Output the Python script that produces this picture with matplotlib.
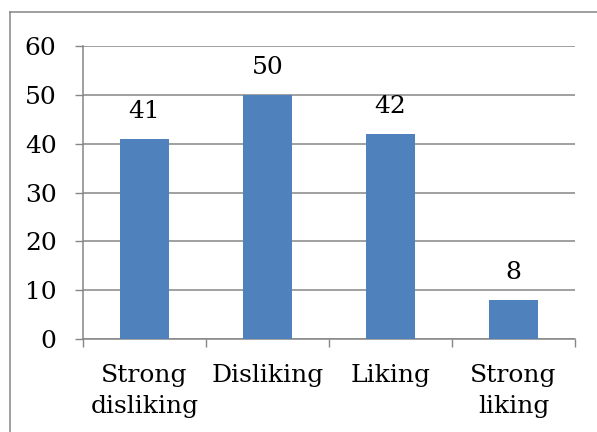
import matplotlib
matplotlib.use("Agg")
import matplotlib.pyplot as plt
from matplotlib.lines import Line2D
from matplotlib.ticker import FixedLocator

categories = ["Strong\ndisliking", "Disliking", "Liking", "Strong\nliking"]
counts = [41, 50, 42, 8]
y_ticks = [0, 10, 20, 30, 40, 50, 60]

W, H = 597, 432
plt.rcParams["font.family"] = ["DejaVu Serif"]
fig = plt.figure(figsize=(W / 100, H / 100), dpi=100)
ax = fig.add_axes([83 / W, (H - 339) / H, (575 - 83) / W, (339 - 46) / H])

grid_col = "#868686"
bar_col = "#4f81bd"
fs = 18

x = list(range(len(categories)))
bars = ax.bar(x, counts, width=0.4, color=bar_col, zorder=3)

for xi, v in zip(x, counts):
    ax.annotate(str(v), (xi, v), xytext=(0, 20), textcoords="offset points",
                ha="center", va="center", fontsize=fs, color="black")

ax.set_xlim(-0.5, len(categories) - 0.5)
ax.set_ylim(0, 60)
ax.set_yticks(y_ticks)
ax.set_yticklabels([str(t) for t in y_ticks], fontsize=fs)
ax.set_xticks(x)
ax.set_xticklabels(categories, fontsize=fs, linespacing=1.47)
ax.xaxis.set_minor_locator(FixedLocator([i - 0.5 for i in range(len(categories) + 1)]))

ax.tick_params(axis="x", which="major", length=0, pad=18)
ax.tick_params(axis="x", which="minor", length=6, width=1, color=grid_col, direction="out")
ax.tick_params(axis="y", which="major", length=6, width=1, color=grid_col, direction="out", pad=13)

ax.grid(axis="y", color=grid_col, linewidth=1.1, zorder=0)
ax.set_axisbelow(True)
for side in ("top", "right"):
    ax.spines[side].set_visible(False)
for side in ("left", "bottom"):
    ax.spines[side].set_color(grid_col)
    ax.spines[side].set_linewidth(1.1)

# chart-area frame
fig.add_artist(Line2D([10 / W, 10 / W], [0, (H - 12) / H], transform=fig.transFigure,
                      color=grid_col, linewidth=1.1))
fig.add_artist(Line2D([10 / W, 1], [(H - 12) / H, (H - 12) / H], transform=fig.transFigure,
                      color=grid_col, linewidth=1.1))

fig.savefig("out.png", dpi=100)
